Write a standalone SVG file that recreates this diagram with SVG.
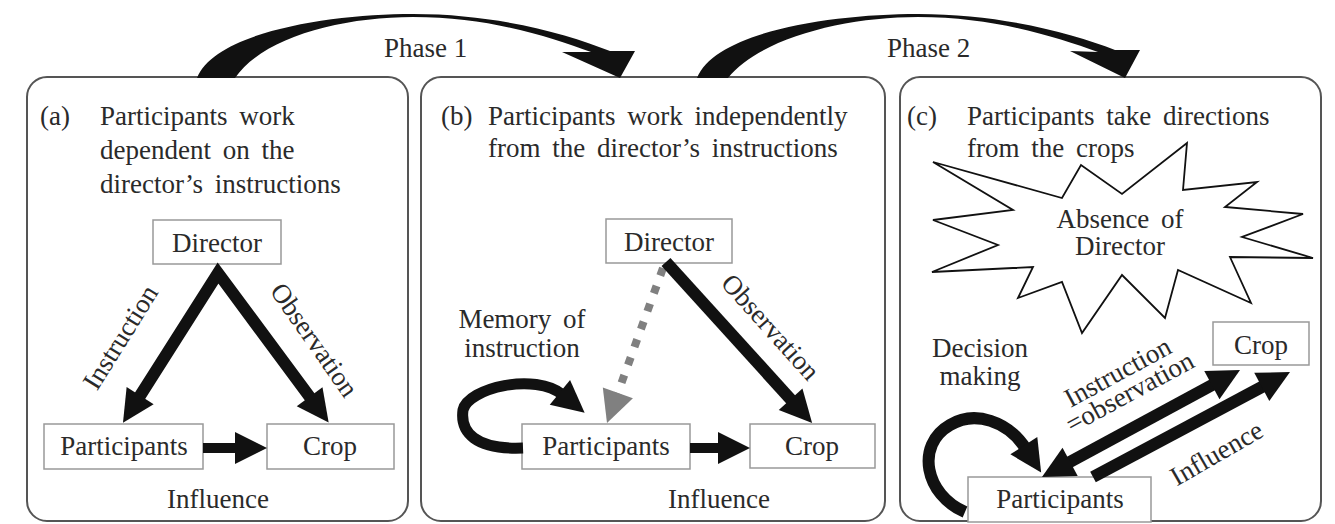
<svg xmlns="http://www.w3.org/2000/svg" width="1335" height="524" viewBox="0 0 1335 524">
<style>
.panel{fill:#fff;stroke:#555;stroke-width:2}
.box{fill:#fff;stroke:#999;stroke-width:1.5}
text{font-size:27px;fill:#2a2a2a}
.hd{word-spacing:5px}
.c{text-anchor:middle}
.arr{fill:none;stroke:#111;stroke-linejoin:miter;stroke-miterlimit:10}
.dash{fill:none;stroke:#808080;stroke-width:8;stroke-dasharray:8 11}
.star{fill:#fff;stroke:#111;stroke-width:1.8;stroke-linejoin:miter}
.arc{fill:#111}
</style>
<defs>
<marker id="head" markerUnits="userSpaceOnUse" markerWidth="32" markerHeight="32" refX="4" refY="16" orient="auto-start-reverse" overflow="visible">
<path d="M0,0 L32,16 L0,32 Z" fill="#111"/>
</marker>
<marker id="ghead" markerUnits="userSpaceOnUse" markerWidth="32" markerHeight="32" refX="4" refY="16" orient="auto" overflow="visible">
<path d="M0,0 L32,16 L0,32 Z" fill="#808080"/>
</marker>
</defs>
<g font-family="Liberation Serif, Times New Roman, serif">
<g id="panel-a">
<rect class="panel" x="27" y="77" width="381" height="444" rx="20"/>
<text x="40" y="125">(a)</text>
<text class="hd" x="100" y="125">Participants work</text>
<text class="hd" x="100" y="159">dependent on the</text>
<text class="hd" x="100" y="193">director’s instructions</text>
<text class="c" x="218" y="508">Influence</text>
</g>
<g id="panel-b">
<rect class="panel" x="421" y="77" width="464" height="444" rx="20"/>
<text x="441" y="125">(b)</text>
<text class="hd" x="488" y="125">Participants work independently</text>
<text class="hd" x="488" y="157">from the director’s instructions</text>
<text class="c hd" x="522" y="328">Memory of</text>
<text class="c" x="522" y="357">instruction</text>
<text class="c" x="719" y="508">Influence</text>
</g>
<g id="panel-c">
<rect class="panel" x="900" y="77" width="421" height="444" rx="20"/>
<text x="907" y="125">(c)</text>
<text class="hd" x="967" y="125">Participants take directions</text>
<text class="hd" x="967" y="157">from the crops</text>
<text class="c" x="980" y="357">Decision</text>
<text class="c" x="980" y="385">making</text>
</g>

<g id="absence-director">
<polygon class="star" points="933,162 1062,198 1081,165 1122,194 1187,143 1183,190 1257,182 1225,207 1303,214 1242,237 1313,258 1230,257 1251,303 1178,270 1165,318 1122,275 1082,333 1062,282 1018,298 1033,267 932,272 998,245 933,220 1013,210"/>
<text class="c hd" x="1120" y="228">Absence of</text>
<text class="c" x="1120" y="255">Director</text>
</g>

<g id="director-a"><rect class="box" x="153" y="220" width="128" height="44"/><text class="c" x="217" y="252">Director</text></g>
<g id="participants-a"><rect class="box" x="44" y="424" width="159" height="45"/><text class="c" x="124" y="455">Participants</text></g>
<g id="crop-a"><rect class="box" x="267" y="424" width="127" height="45"/><text class="c" x="330" y="455">Crop</text></g>

<g id="director-b"><rect class="box" x="606" y="219" width="126" height="44"/><text class="c" x="669" y="251">Director</text></g>
<g id="participants-b"><rect class="box" x="522" y="424" width="168" height="45"/><text class="c" x="606" y="455">Participants</text></g>
<g id="crop-b"><rect class="box" x="750" y="424" width="125" height="44"/><text class="c" x="812" y="455">Crop</text></g>

<g id="crop-c"><rect class="box" x="1213" y="322" width="96" height="43"/><text class="c" x="1261" y="354">Crop</text></g>
<g id="participants-c"><rect class="box" x="968" y="477" width="183" height="45"/><text class="c" x="1060" y="508">Participants</text></g>

<g id="connectors">
<path class="arc" d="M197,78 C215,32 330,14 413,14 C495,14 565,33 610,51 L635,51 L620,78 L562,52 L591,52 C550,37 490,17 413,17 C340,17 262,38 235,78 Z"/>
<path class="arc" d="M697,78 C715,32 830,14 918,14 C1000,14 1072,33 1115,50 L1140,50 L1125,78 L1070,51 L1098,52 C1056,37 995,17 918,17 C845,17 760,38 728,78 Z"/>
<text x="384" y="57">Phase 1</text>
<text x="887" y="57">Phase 2</text>

<path class="arr" stroke-width="12" d="M138,399 L218,273 L312,400" marker-start="url(#head)" marker-end="url(#head)"/>
<line class="arr" stroke-width="10" x1="203" y1="448" x2="239" y2="448" marker-end="url(#head)"/>
<text class="c" transform="translate(128,342) rotate(-58)">Instruction</text>
<text class="c" transform="translate(307,345) rotate(55)">Observation</text>

<line class="dash" x1="663" y1="268" x2="616.5" y2="396.7" marker-end="url(#ghead)"/>
<line class="arr" stroke-width="12" x1="666" y1="262" x2="793.3" y2="402.2" marker-end="url(#head)"/>
<line class="arr" stroke-width="10" x1="690" y1="448" x2="722" y2="448" marker-end="url(#head)"/>
<path class="arr" stroke-width="11" d="M523,448 C475,450 460,432 463,410 C468,388 535,372 563,395" marker-end="url(#head)"/>
<text class="c" transform="translate(764,333) rotate(48)">Observation</text>

<line class="arr" stroke-width="12" x1="1066.6" y1="463.7" x2="1215.4" y2="383.3" marker-start="url(#head)" marker-end="url(#head)"/>
<line class="arr" stroke-width="12" x1="1093" y1="477" x2="1265.3" y2="385.1" marker-end="url(#head)"/>
<path class="arr" stroke-width="12" d="M965,512 C925,495 915,445 950,425 C975,410 1008,421 1026,449" marker-end="url(#head)"/>
<text class="c" transform="translate(1122,380) rotate(-28.5)">Instruction</text>
<text class="c" transform="translate(1134,400) rotate(-28.5)">=observation</text>
<text class="c" transform="translate(1221,461) rotate(-30)">Influence</text>
</g>
</g>
</svg>
